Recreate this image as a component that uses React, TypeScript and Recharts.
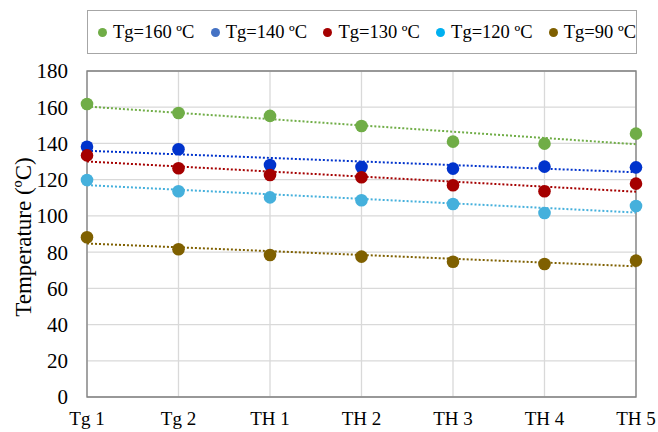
import { LineChart, Line, XAxis, YAxis, CartesianGrid, ReferenceArea } from "recharts";

const categories = ["Tg 1", "Tg 2", "TH 1", "TH 2", "TH 3", "TH 4", "TH 5"];
const tg160 = [161.8, 156.8, 155.2, 149.6, 141.0, 139.9, 145.4];
const tg140 = [138.2, 136.8, 128.1, 127.0, 126.1, 127.2, 126.8];
const tg130 = [133.4, 126.3, 122.6, 121.3, 116.9, 113.6, 117.8];
const tg120 = [119.8, 113.6, 110.2, 108.6, 106.6, 101.6, 105.5];
const tg90 = [88.2, 81.6, 78.4, 77.5, 74.7, 73.4, 75.3];
const yTicks = [0, 20, 40, 60, 80, 100, 120, 140, 160, 180];

const FONT = '"Liberation Serif", "Times New Roman", serif';

const series = [
  { key: "s160", label: "Tg=160 ºC", values: tg160, color: "#70ad47", legend: "#70ad47" },
  { key: "s140", label: "Tg=140 ºC", values: tg140, color: "#0033cc", legend: "#4472c4" },
  { key: "s130", label: "Tg=130 ºC", values: tg130, color: "#a50000", legend: "#a50000" },
  { key: "s120", label: "Tg=120 ºC", values: tg120, color: "#45b0dc", legend: "#00b0f0" },
  { key: "s90", label: "Tg=90 ºC", values: tg90, color: "#7f6000", legend: "#7f6000" },
];

// least-squares trendline, like the Excel linear trend
function fit(ys: number[]) {
  const n = ys.length;
  const mx = (n - 1) / 2;
  const my = ys.reduce((a, b) => a + b, 0) / n;
  let num = 0, den = 0;
  ys.forEach((y, i) => { num += (i - mx) * (y - my); den += (i - mx) * (i - mx); });
  const slope = num / den;
  return ys.map((_, i) => my + slope * (i - mx));
}

const data = categories.map((name, i) => {
  const row: Record<string, any> = { name };
  series.forEach((s) => {
    row[s.key] = s.values[i];
    row[s.key + "_t"] = fit(s.values)[i];
  });
  return row;
});

const YLabel = () => (
  <text x={23} y={237} transform="rotate(-90 23 237)" textAnchor="middle" dominantBaseline="central"
    style={{ fontFamily: FONT, fontSize: 23, fill: "#000" }}>
    Temperature (ºC)
  </text>
);

export default function App() {
  return (
    <div style={{ position: "absolute", left: 0, top: 0, width: 658, height: 432, background: "#fff", fontFamily: FONT }}>
      <div style={{
        position: "absolute", left: 87, top: 10, width: 550, height: 44, boxSizing: "border-box",
        border: "1px solid #a6a6a6", display: "flex", alignItems: "center", justifyContent: "space-between",
        padding: "0 0 0 10px",
      }}>
        {series.map((s) => (
          <div key={s.key} style={{ display: "flex", alignItems: "center", fontSize: 18.5, color: "#000", whiteSpace: "nowrap" }}>
            <span style={{ width: 9, height: 9, borderRadius: "50%", background: s.legend, marginRight: 6, display: "inline-block" }} />
            {s.label}
          </div>
        ))}
      </div>
      <LineChart width={658} height={432} data={data} margin={{ top: 71, right: 22, bottom: 0, left: 0 }}>
        <CartesianGrid stroke="#d9d9d9" strokeWidth={1.3} />
        <XAxis dataKey="name" padding={{ left: 0, right: 0 }} axisLine={false} tickLine={false} tickSize={0}
          tickMargin={15} height={35} interval={0}
          tick={{ fontFamily: FONT, fontSize: 19, fill: "#000" }} />
        <YAxis domain={[0, 180]} ticks={yTicks} axisLine={false} tickLine={false} tickSize={0} tickMargin={19}
          width={87} tick={{ fontFamily: FONT, fontSize: 21, fill: "#000" }} label={<YLabel />} />
        <ReferenceArea x1="Tg 1" x2="TH 5" y1={0} y2={180} fill="none" stroke="#808080" strokeWidth={1.3} fillOpacity={0} />
        {series.map((s) => (
          <Line key={s.key + "_t"} dataKey={s.key + "_t"} stroke={s.color} strokeWidth={2} strokeDasharray="2 2"
            dot={false} activeDot={false} isAnimationActive={false} />
        ))}
        {series.map((s) => (
          <Line key={s.key} dataKey={s.key} stroke="none" dot={{ r: 6.3, fill: s.color, stroke: "none" }}
            activeDot={false} isAnimationActive={false} />
        ))}
      </LineChart>
    </div>
  );
}
